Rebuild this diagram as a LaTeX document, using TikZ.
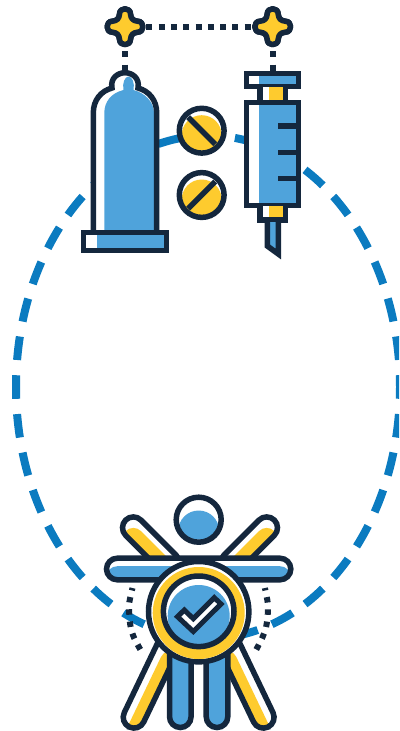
\documentclass[tikz,border=0pt]{standalone}
\definecolor{navy}{HTML}{14273D}
\definecolor{iconblue}{HTML}{4FA3DB}
\definecolor{gold}{HTML}{FECB2E}
\definecolor{ringblue}{HTML}{0B7BC0}
\tikzset{
  outline/.style={draw=navy,line width=5.5pt,line join=miter},
  dotline/.style={draw=navy,line width=6pt},
  ring/.style={draw=ringblue,line width=8pt}
}
\newcommand{\capsulepath}[1]{[rounded corners=10.8pt] (-10.8,-10.8) rectangle ({#1+10.8},10.8)}
\newcommand{\capsule}[6]{%
  \begin{scope}[shift={(#1,#2)},rotate=#3]
    \fill[white] \capsulepath{#4};
    \begin{scope}
      \clip \capsulepath{#4};
      \fill[#5,shift={({-#6*sin(#3)},{#6*cos(#3)})}] \capsulepath{#4};
    \end{scope}
    \draw[outline] \capsulepath{#4};
  \end{scope}}
\newcommand{\sparkle}[3]{%
  \coordinate (#1) at (#2,#3);
  \begin{scope}[shift={(#2,#3)}]
    \path[outline,fill=gold,line join=round] (-5.5,-12.5) .. controls (-5.5,-19.7) and (5.5,-19.7) .. (5.5,-12.5)
      .. controls (6,-8) and (8,-6) .. (12.5,-5.5)
      .. controls (19.7,-5.5) and (19.7,5.5) .. (12.5,5.5)
      .. controls (8,6) and (6,8) .. (5.5,12.5)
      .. controls (5.5,19.7) and (-5.5,19.7) .. (-5.5,12.5)
      .. controls (-6,8) and (-8,6) .. (-12.5,5.5)
      .. controls (-19.7,5.5) and (-19.7,-5.5) .. (-12.5,-5.5)
      .. controls (-8,-6) and (-6,-8) .. (-5.5,-12.5) -- cycle;
  \end{scope}}
\newcommand{\pill}[4]{%
  \begin{scope}
    \fill[white] (#1,#2) circle (20);
    \begin{scope}
      \clip (#1,#2) circle (20);
      \fill[gold] (#1,#2+4.5) circle (20);
    \end{scope}
    \draw[outline] (#1,#2) circle (22.4);
    \draw[navy,line width=5.5pt] (#1-#3,#2-#4) -- (#1+#3,#2+#4);
  \end{scope}}
\begin{document}
\begin{tikzpicture}[x=1pt,y=-1pt]
\useasboundingbox (0,0) rectangle (399,731);
\begin{scope}
\clip (0,0) rectangle (399,731);
% dashed ring
\draw[ring,dash pattern=on 23.6pt off 15.28pt,dash phase=11.8pt] (208,387) ellipse [x radius=192,y radius=251.5];
\end{scope}
% dotted links
\sparkle{starL}{125}{26.7}
\sparkle{starR}{272.7}{26.7}
\coordinate (tipL) at (125,73);
\coordinate (tipR) at (272.7,73);
\draw[dotline,dash pattern=on 6pt off 6.3pt,dash phase=3.3pt] (starL) -- (starR);
\draw[dotline,dash pattern=on 6pt off 7.4pt,dash phase=2.2pt] (starL) -- (tipL);
\draw[dotline,dash pattern=on 6pt off 7.4pt,dash phase=2.2pt] (starR) -- (tipR);
\sparkle{starL}{125}{26.7}
\sparkle{starR}{272.7}{26.7}
% condom
\fill[white] (93.3,232) -- (93.3,113) .. controls (93.3,100) and (101,91) .. (112,88) .. controls (110,78) and (118,72.7) .. (125,72.7) .. controls (132,72.7) and (140,78) .. (138,88) .. controls (149,91) and (156.7,100) .. (156.7,113) -- (156.7,232) -- cycle;
\fill[iconblue] (104.3,232) -- (104.3,113) .. controls (104.3,102) and (111,93) .. (123.5,90) .. controls (122,83) and (125,76.5) .. (128.5,76.5) .. controls (132,76.5) and (135,83) .. (133.5,90) .. controls (145,93) and (154,102) .. (154,113) -- (154,232) -- cycle;
\draw[outline] (93.3,232) -- (93.3,113) .. controls (93.3,100) and (101,91) .. (112,88) .. controls (110,78) and (118,72.7) .. (125,72.7) .. controls (132,72.7) and (140,78) .. (138,88) .. controls (149,91) and (156.7,100) .. (156.7,113) -- (156.7,232);
\fill[white] (83.3,232.3) rectangle (166.7,250.7);
\fill[iconblue] (96.7,232.3) rectangle (164,250.7);
\draw[outline] (83.3,232.3) rectangle (166.7,250.7);
% pills
\pill{201.7}{130.7}{-13.5}{-13.5}
\pill{201.7}{195}{13.5}{-13.5}
% syringe
\fill[white] (246.7,73.3) rectangle (298.7,86.7);
\fill[iconblue] (259,73.3) rectangle (298.7,86.7);
\draw[outline] (246.7,73.3) rectangle (298.7,86.7);
\fill[white] (260,86.7) rectangle (285.3,102.7);
\fill[gold] (269,86.7) rectangle (283,102.7);
\draw[outline] (260,86.7) -- (260,102.7) (285.3,86.7) -- (285.3,102.7);
\fill[white] (246.7,102.7) rectangle (298.7,205.7);
\fill[iconblue] (259,102.7) rectangle (298.7,205.7);
\draw[outline] (246.7,102.7) rectangle (298.7,205.7);
\draw[navy,line width=5.5pt] (278,126) -- (297,126) (278,152.7) -- (297,152.7) (278,178.7) -- (297,178.7);
\fill[white] (260,205.7) rectangle (285.3,220);
\fill[gold] (269,205.7) rectangle (283,217.5);
\draw[outline] (260,205.7) -- (260,220) -- (285.3,220) -- (285.3,205.7);
\fill[iconblue] (267.3,222) -- (267.3,246) -- (278.3,254) -- (278.3,222) -- cycle;
\draw[outline] (267.3,221) -- (267.3,246) -- (278.3,254) -- (278.3,221);
% person
\capsule{134}{717.3}{64.4}{85}{gold}{21}
\capsule{263.3}{717.3}{115.6}{85}{gold}{21}
\capsule{180.3}{716.7}{90}{80}{iconblue}{0}
\capsule{217}{716.7}{90}{80}{iconblue}{0}
\capsule{133.3}{527.7}{-45}{50}{gold}{11}
\capsule{266.7}{527.7}{-135}{50}{gold}{11}
\capsule{117.3}{569}{0}{162.7}{iconblue}{8}
\fill[white] (198.7,519.7) circle (20);
\begin{scope}
  \clip (198.7,519.7) circle (20);
  \fill[iconblue] (198.7,531) circle (20.5);
\end{scope}
\draw[outline] (198.7,519.7) circle (22.5);
% dotted arcs round the badge
\draw[dotline,dash pattern=on 5.5pt off 6.8pt,dash phase=3pt] plot[smooth] coordinates {(132.5,588) (129.3,602.7) (129.3,615) (130.7,627.3) (134.3,638.3) (141.5,651.5)};
\draw[dotline,dash pattern=on 5.5pt off 6.8pt,dash phase=3pt] plot[smooth] coordinates {(264.9,588) (267.7,602.7) (267.7,615) (266,627.3) (262,638.3) (255.2,651.5)};
% badge
\fill[white] (198.7,611.7) circle (50);
\draw[outline] (198.7,611.7) circle (50.2);
\fill[gold] (198.7,613) circle (46);
\fill[white] (198.7,611.3) circle (34);
\begin{scope}
  \clip (198.7,611.3) circle (33);
  \fill[iconblue] (198.7,616) circle (31);
\end{scope}
\draw[outline] (198.7,611.3) circle (35.3);
\path[outline,line width=5pt,fill=white] (177.5,616.7) -- (184.3,610) -- (193.3,618.7) -- (214.3,597.7) -- (221,604) -- (193.3,631.5) -- cycle;
\end{tikzpicture}
\end{document}
